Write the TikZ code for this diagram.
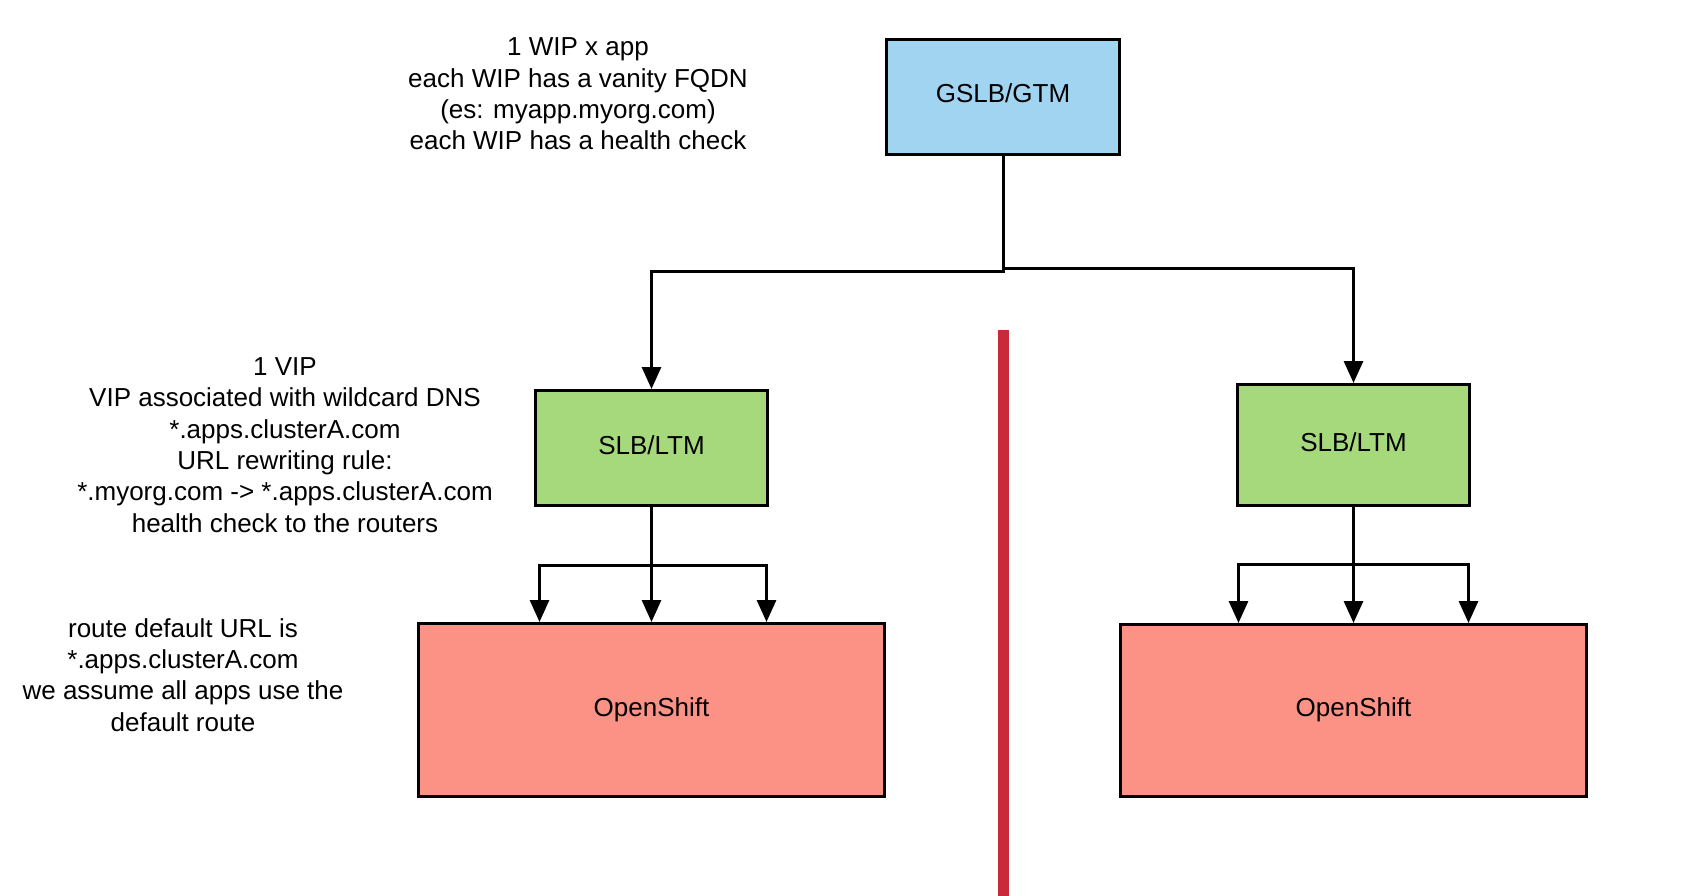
\documentclass[tikz,border=0pt]{standalone}
\usepackage{fontspec}
\setmainfont{Liberation Sans}
\usetikzlibrary{arrows.meta}
\definecolor{gblue}{RGB}{160,212,240}
\definecolor{sgreen}{RGB}{166,216,124}
\definecolor{osred}{RGB}{252,146,134}
\definecolor{divred}{RGB}{200,42,58}
\tikzset{
  box/.style={draw=black, line width=3pt, inner sep=0pt, text height=19pt, text depth=7pt, font=\fontsize{26}{31.4}\selectfont},
  gbox/.style={box, fill=gblue, minimum width=233pt, minimum height=115pt},
  sbox/.style={box, fill=sgreen, minimum width=232pt},
  obox/.style={box, fill=osred, minimum width=466pt},
  note/.style={align=center, inner sep=0pt, font=\fontsize{26}{31.4}\selectfont},
  conn/.style={line width=3pt, draw=black},
  arr/.style={conn, -{Triangle[width=19pt,length=22pt]}}
}
\begin{document}
\begin{tikzpicture}[x=1pt,y=-1pt]
\useasboundingbox (0,0) rectangle (1682,896);
% nodes
\node[gbox] (g) at (1003,97) {GSLB/GTM};
\node[sbox, minimum height=115pt] (sl) at (651.5,448) {SLB/LTM};
\node[sbox, minimum height=121pt] (sr) at (1353.5,445) {SLB/LTM};
\node[obox, minimum height=173pt] (ol) at (651.5,710) {OpenShift};
\node[obox, minimum height=172pt] (or) at (1353.5,710.5) {OpenShift};
% notes
\node[note] (n1) at (578,94) {1 WIP x app\\each WIP has a vanity FQDN\\(es: myapp.myorg.com)\\each WIP has a health check};
\node[note] (n2) at (285,445) {1 VIP\\VIP associated with wildcard DNS\\*.apps.clusterA.com\\URL rewriting rule:\\*.myorg.com -> *.apps.clusterA.com\\health check to the routers};
\node[note] (n3) at (183,675) {route default URL is\\*.apps.clusterA.com\\we assume all apps use the\\default route};
% divider
\coordinate (dt) at (1003,330);
\coordinate (db) at (1003,896);
\draw[divred, line width=11pt] (dt) -- (db);
% connectors from GSLB
\coordinate (jl) at (1003,272);
\coordinate (jr) at (1003,269);
\draw[arr] (g.south) -- (jl) -| (sl.north);
\draw[arr] (g.south) -- (jr) -| (sr.north);
% left branches
\coordinate (bl) at (651.5,565);
\draw[arr] (sl.south) -- (ol.north);
\draw[arr] (bl) -| ([xshift=-112pt]ol.north);
\draw[arr] (bl) -| ([xshift=115pt]ol.north);
% right branches
\coordinate (br) at (1353.5,564);
\draw[arr] (sr.south) -- (or.north);
\draw[arr] (br) -| ([xshift=-115pt]or.north);
\draw[arr] (br) -| ([xshift=115pt]or.north);
\end{tikzpicture}
\end{document}
